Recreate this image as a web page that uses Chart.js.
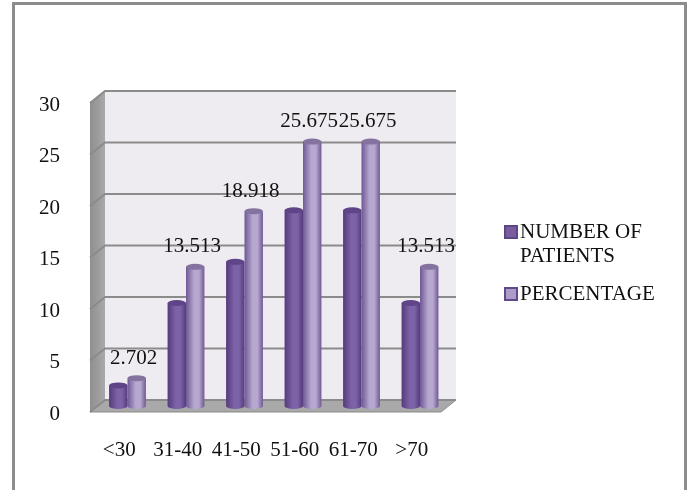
<!DOCTYPE html>
<html>
<head>
<meta charset="utf-8">
<style>
  html, body { margin: 0; background: #fff; }
  #wrap { width: 691px; height: 490px; }
</style>
<script src="https://cdn.jsdelivr.net/npm/chart.js@4"></script>
</head>
<body>
<div id="wrap"><canvas id="ageChart" width="691" height="490"></canvas></div>
<script>
const ageGroups = ['<30', '31-40', '41-50', '51-60', '61-70', '>70'];
const patients = [2, 10, 14, 19, 19, 10];
const percentage = [2.702, 13.513, 18.918, 25.675, 25.675, 13.513];
const legendLines = [['NUMBER OF', 'PATIENTS'], ['PERCENTAGE']];

const serif = '"Liberation Serif", "Times New Roman", serif';
const labelFont = '21px ' + serif;

// offsets of the back wall and of the bars from the front plane of the axes
const wall = { x: 15, y: -12 };
const barShift = { x: 8.25, y: -6 };

const palette = [
  { edge: '#553a7c', mid: '#7e62a8', cap: '#5f4488', swatch: '#7a5d9f', rim: '#5f4488' },
  { edge: '#6f5894', mid: '#b7a8d0', cap: '#85739f', swatch: '#ac9dc6', rim: '#62498c' }
];

const frame3d = {
  id: 'frame3d',
  beforeDraw(chart) {
    const { ctx, chartArea: a, scales: { y } } = chart;
    ctx.save();

    // outer border, open at the bottom
    ctx.strokeStyle = '#8c8c8c';
    ctx.lineWidth = 3;
    ctx.beginPath();
    ctx.moveTo(13.5, 490);
    ctx.lineTo(13.5, 3.5);
    ctx.lineTo(685.5, 3.5);
    ctx.lineTo(685.5, 490);
    ctx.stroke();

    // back wall
    ctx.fillStyle = '#eeebf1';
    ctx.fillRect(a.left + wall.x, a.top + wall.y, a.width, a.height);

    // left wall
    const side = ctx.createLinearGradient(a.left, 0, a.left + wall.x, 0);
    side.addColorStop(0, '#8f8f8f');
    side.addColorStop(1, '#a9a8aa');
    ctx.fillStyle = side;
    ctx.beginPath();
    ctx.moveTo(a.left, a.top);
    ctx.lineTo(a.left + wall.x, a.top + wall.y);
    ctx.lineTo(a.left + wall.x, a.bottom + wall.y);
    ctx.lineTo(a.left, a.bottom);
    ctx.closePath();
    ctx.fill();

    // floor
    ctx.fillStyle = '#a9a9a9';
    ctx.strokeStyle = '#8a8a8a';
    ctx.lineWidth = 1;
    ctx.beginPath();
    ctx.moveTo(a.left, a.bottom);
    ctx.lineTo(a.left + wall.x, a.bottom + wall.y);
    ctx.lineTo(a.right + wall.x, a.bottom + wall.y);
    ctx.lineTo(a.right, a.bottom);
    ctx.closePath();
    ctx.fill();
    ctx.stroke();

    // gridlines run along the wall and down the side
    ctx.strokeStyle = '#8b8b8b';
    ctx.lineWidth = 2;
    y.ticks.forEach(t => {
      const py = y.getPixelForValue(t.value);
      ctx.beginPath();
      ctx.moveTo(a.left, py);
      ctx.lineTo(a.left + wall.x, py + wall.y);
      ctx.lineTo(a.right + wall.x, py + wall.y);
      ctx.stroke();
    });
    ctx.restore();
  },
  afterDatasetsDraw(chart) {
    const { ctx } = chart;

    // turn each flat bar into a cylinder, lighter series in front
    ctx.save();
    ctx.translate(barShift.x, barShift.y);
    [0, 1].forEach(index => {
      const c = palette[index];
      chart.getDatasetMeta(index).data.forEach(bar => {
        const w = bar.width, l = bar.x - w / 2, r = bar.x + w / 2, ry = 3;
        const g = ctx.createLinearGradient(l, 0, r, 0);
        g.addColorStop(0, c.edge);
        g.addColorStop(0.45, c.mid);
        g.addColorStop(0.7, c.mid);
        g.addColorStop(1, c.edge);
        ctx.fillStyle = g;
        ctx.beginPath();
        ctx.moveTo(l, bar.y);
        ctx.lineTo(l, bar.base);
        ctx.ellipse(bar.x, bar.base, w / 2, ry, 0, Math.PI, 0, true);
        ctx.lineTo(r, bar.y);
        ctx.closePath();
        ctx.fill();
        ctx.fillStyle = c.cap;
        ctx.beginPath();
        ctx.ellipse(bar.x, bar.y, w / 2, ry, 0, 0, Math.PI * 2);
        ctx.fill();
      });
    });
    ctx.restore();

    // value labels over the percentage bars
    const meta = chart.getDatasetMeta(1);
    ctx.save();
    ctx.font = labelFont;
    ctx.fillStyle = '#111';
    ctx.textAlign = 'center';
    ctx.textBaseline = 'middle';
    meta.data.forEach((bar, i) => {
      ctx.fillText(percentage[i].toString(), bar.x + barShift.x - 3, bar.y + barShift.y - 20);
    });

    // legend, drawn by hand because the first entry wraps on two lines
    const rows = [226, 288];
    ctx.textAlign = 'left';
    legendLines.forEach((lines, i) => {
      const c = palette[i];
      ctx.fillStyle = c.swatch;
      ctx.strokeStyle = c.rim;
      ctx.lineWidth = 2;
      ctx.fillRect(505, rows[i], 12, 12);
      ctx.strokeRect(505, rows[i], 12, 12);
      ctx.fillStyle = '#111';
      lines.forEach((text, k) => ctx.fillText(text, 520, rows[i] + 6 + k * 24));
    });
    ctx.restore();
  }
};

new Chart(document.getElementById('ageChart'), {
  type: 'bar',
  data: {
    labels: ageGroups,
    datasets: [
      { label: 'NUMBER OF PATIENTS', data: patients, backgroundColor: 'rgba(122,93,159,0)' },
      { label: 'PERCENTAGE', data: percentage, backgroundColor: 'rgba(172,157,198,0)' }
    ]
  },
  options: {
    responsive: false,
    animation: false,
    layout: { padding: { top: 103, right: 250, left: 0, bottom: 0 } },
    categoryPercentage: 0.63,
    barPercentage: 1,
    plugins: { legend: { display: false }, tooltip: { enabled: false } },
    scales: {
      x: {
        grid: { display: false },
        border: { display: false },
        afterFit(s) { s.height = 78; },
        ticks: { color: '#111', font: { family: serif, size: 21 }, padding: 18, maxRotation: 0, autoSkip: false }
      },
      y: {
        min: 0,
        max: 30,
        grid: { display: false },
        border: { display: false },
        afterFit(s) { s.width = 90; },
        ticks: { stepSize: 5, color: '#111', font: { family: serif, size: 21 }, padding: 22, labelOffset: 2 }
      }
    }
  },
  plugins: [frame3d]
});
</script>
</body>
</html>
